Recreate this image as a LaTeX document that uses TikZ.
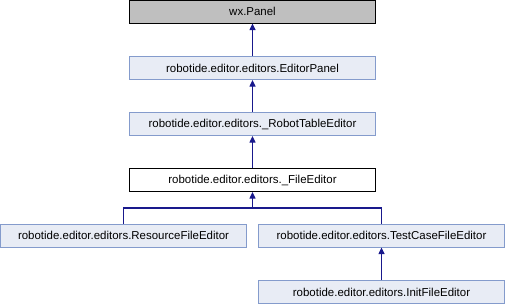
\documentclass[tikz,border=0pt]{standalone}
\usepackage{fontspec}
\setmainfont{Liberation Sans}
\usetikzlibrary{arrows.meta}
\definecolor{boxfill}{RGB}{232,236,245}
\definecolor{boxline}{RGB}{132,155,204}
\definecolor{basefill}{RGB}{191,191,191}
\definecolor{edgeblue}{RGB}{25,25,140}
\tikzset{
  klass/.style={draw=boxline, fill=boxfill, line width=0.75pt, minimum width=185pt, minimum height=17.25pt, inner sep=0pt, font=\fontsize{8.6pt}{10pt}\selectfont},
  baseklass/.style={klass, draw=black, fill=basefill},
  curklass/.style={klass, draw=black, fill=white},
  inherit/.style={draw=edgeblue, line width=1pt},
  inheritarrow/.style={inherit, -{Triangle[length=5pt,width=4.5pt]}}
}
\begin{document}
\begin{tikzpicture}[x=0.75pt,y=0.75pt,yscale=-1,xscale=1]
			\useasboundingbox (0,0) rectangle (506,304);
			
			% Class boxes
			\node [baseklass] (panel) at (252.5,11.5) {wx.Panel};
			\node [klass] (edpanel) at (252.5,68) {robotide.editor.editors.EditorPanel};
			\node [klass] (robtable) at (252.5,124) {robotide.editor.editors.\_RobotTableEditor};
			\node [curklass] (fileed) at (252.5,180) {robotide.editor.editors.\_FileEditor};
			\node [klass] (resfile) at (123.5,235.5) {robotide.editor.editors.ResourceFileEditor};
			\node [klass] (tcfile) at (381.5,235.5) {robotide.editor.editors.TestCaseFileEditor};
			\node [klass] (initfile) at (381.5,292) {robotide.editor.editors.InitFileEditor};
			
			% Inheritance edges
			\draw [inheritarrow] (edpanel.north) -- (panel.south);
			\draw [inheritarrow] (robtable.north) -- (edpanel.south);
			\draw [inheritarrow] (fileed.north) -- (robtable.south);
			\coordinate (fork) at (252.5,208);
			\draw [inheritarrow] (fork) -- (fileed.south);
			\draw [inherit] (resfile.north) |- (fork) -| (tcfile.north);
			\draw [inheritarrow] (initfile.north) -- (tcfile.south);
		\end{tikzpicture}
\end{document}
